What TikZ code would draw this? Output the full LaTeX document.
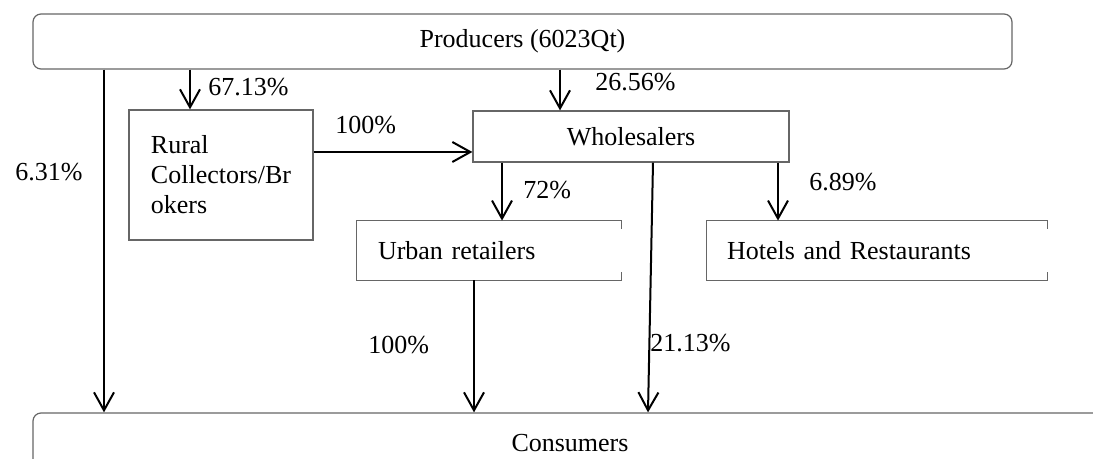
\documentclass[tikz,border=0pt]{standalone}
\usepackage{fontspec}
\setmainfont{Liberation Serif}
\usetikzlibrary{arrows.meta,calc}

\tikzstyle{box}=[draw=black!60, line width=0.6pt, inner sep=0pt, font=\fontsize{13}{15}\selectfont]
\tikzstyle{openbox}=[inner xsep=10pt, inner ysep=0pt, align=left, font=\fontsize{13}{15}\selectfont]
\tikzstyle{edge}=[draw=black!60, line width=0.6pt]
\tikzstyle{flow}=[-{Straight Barb[length=9pt,width=10pt]}, line width=1pt]
\tikzstyle{share}=[inner sep=0pt, anchor=west, font=\fontsize{13}{15}\selectfont]

\begin{document}
\begin{tikzpicture}[x=0.5pt, y=-0.5pt]
      \clip (0,0) rectangle (1093,459);
      % boxes
      \node (prod) at (522.5,41.5) [box, rounded corners=4pt, minimum width=489.5pt, minimum height=27.5pt] {Producers (6023Qt)};
      \node (rural) at (221,175) [box, minimum width=92pt, minimum height=65pt, align=left] {Rural\\Collectors/Br\\okers};
      \node (whole) at (631,136.5) [box, minimum width=158pt, minimum height=25.5pt] {Wholesalers};
      \node (urban) at (489,250.5) [openbox, inner xsep=10.5pt, text width=111pt, minimum height=29.5pt] {Urban retailers};
      \node (hotels) at (877,250.5) [openbox, text width=150pt, minimum height=29.5pt] {Hotels and Restaurants};
      \node (cons) at (570,443) [box, rounded corners=4pt, minimum width=537pt, minimum height=30pt] {Consumers};

      \draw[edge] ($(urban.north east)+(0,8)$) -- (urban.north east) -- (urban.north west) -- (urban.south west) -- (urban.south east) -- ($(urban.south east)+(0,-8)$);
      \draw[edge] ($(hotels.north east)+(0,8)$) -- (hotels.north east) -- (hotels.north west) -- (hotels.south west) -- (hotels.south east) -- ($(hotels.south east)+(0,-8)$);

      % flows
      \draw[flow] (prod.south -| 104,0) -- (cons.north -| 104,0);
      \draw[flow] (prod.south -| 190,0) -- (rural.north -| 190,0);
      \draw[flow] (prod.south -| 560,0) -- (whole.north -| 560,0);
      \draw[flow] (rural.east |- 0,152) -- (whole.west |- 0,152);
      \draw[flow] (whole.south -| 502,0) -- (urban.north -| 502,0);
      \draw[flow] (whole.south -| 778,0) -- (hotels.north -| 778,0);
      \draw[flow] (whole.south -| 653,0) -- (cons.north -| 648,0);
      \draw[flow] (urban.south -| 474,0) -- (cons.north -| 474,0);

      % shares
      \node (share-rural) at (208,87) [share] {67.13\%};
      \node (share-whole) at (595,82) [share] {26.56\%};
      \node (share-broker) at (335,125) [share] {100\%};
      \node (share-direct) at (15,172) [share] {6.31\%};
      \node (share-urban) at (523,190) [share] {72\%};
      \node (share-hotels) at (809,182) [share] {6.89\%};
      \node (share-retail) at (368,345) [share] {100\%};
      \node (share-cons) at (650,343) [share] {21.13\%};
\end{tikzpicture}
\end{document}
